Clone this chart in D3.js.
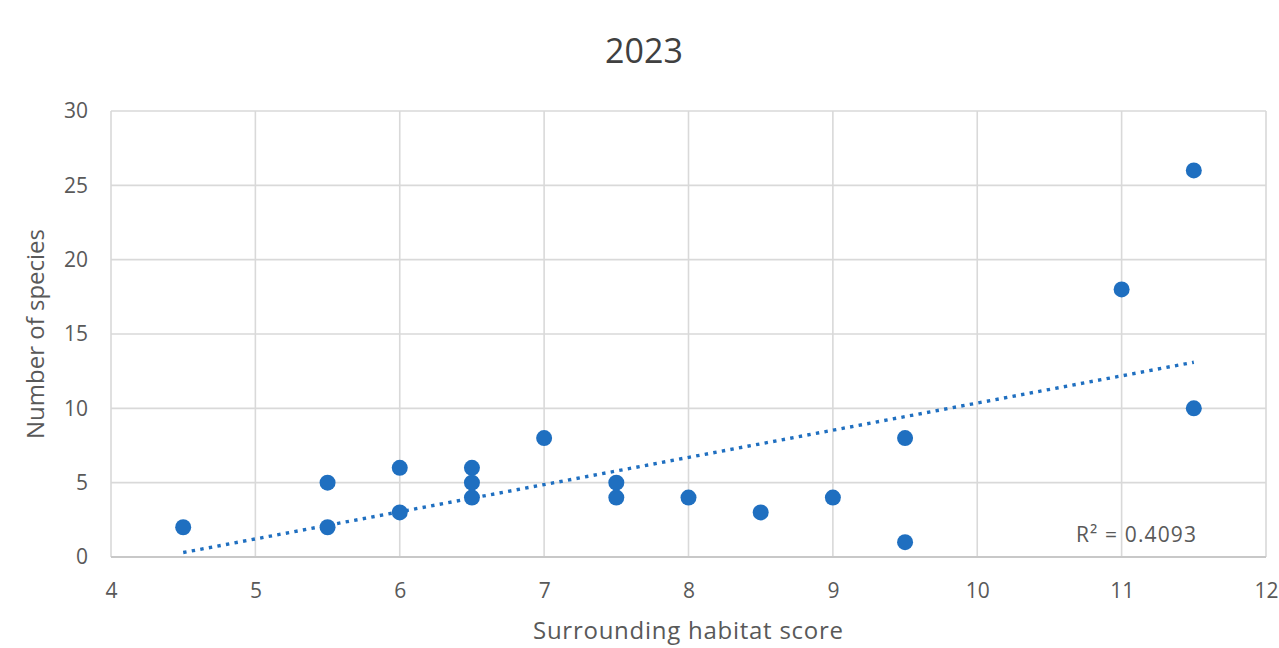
<!DOCTYPE html>
<html>
<head>
<meta charset="utf-8">
<script src="https://cdn.jsdelivr.net/npm/d3@7"></script>
<style>
  html, body { margin: 0; padding: 0; background: #fff; }
  svg { display: block; font-family: "Open Sans", sans-serif; }
  svg text { font-family: "Open Sans", sans-serif; }
</style>
</head>
<body>
<svg id="chart" width="1279" height="648"></svg>
<script>
// Habitat score vs number of species, 2023 survey
const habitatScore = [4.5, 5.5, 5.5, 6, 6, 6.5, 6.5, 6.5, 7, 7.5, 7.5, 8, 8.5, 9, 9.5, 9.5, 11, 11.5, 11.5];
const speciesCount = [2, 5, 2, 6, 3, 6, 5, 4, 8, 5, 4, 4, 3, 4, 8, 1, 18, 26, 10];

// Linear trendline end points
const trendX = [4.5, 11.5];
const trendY = [0.3, 13.1];
const rSquared = "0.4093";

const xTicks = [4, 5, 6, 7, 8, 9, 10, 11, 12];
const yTicks = [0, 5, 10, 15, 20, 25, 30];

const svg = d3.select("#chart");
const margin = { left: 111, right: 13, top: 111, bottom: 91 };
const W = 1279, H = 648;

const x = d3.scaleLinear().domain([4, 12]).range([margin.left, W - margin.right]);
const y = d3.scaleLinear().domain([0, 30]).range([H - margin.bottom, margin.top]);

const grid = "#d9d9d9";
const text = "#595959";
const blue = "#1f6fc0";

// gridlines
svg.append("g").selectAll("line").data(yTicks).join("line")
  .attr("x1", x(4)).attr("x2", x(12))
  .attr("y1", d => y(d)).attr("y2", d => y(d))
  .attr("stroke", grid).attr("stroke-width", 1.6);
svg.append("g").selectAll("line").data(xTicks).join("line")
  .attr("y1", y(0)).attr("y2", y(30))
  .attr("x1", d => x(d)).attr("x2", d => x(d))
  .attr("stroke", grid).attr("stroke-width", 1.6);
// baseline
svg.append("line")
  .attr("x1", x(4)).attr("x2", x(12)).attr("y1", y(0)).attr("y2", y(0))
  .attr("stroke", "#c8c8c8").attr("stroke-width", 1.8);

// axes (labels only)
const xAxis = svg.append("g")
  .attr("transform", `translate(0,${y(0)})`)
  .call(d3.axisBottom(x).tickValues(xTicks).tickSize(0).tickPadding(41).tickFormat(d3.format("d")));
xAxis.attr("font-family", null).attr("font-size", null);
xAxis.select(".domain").remove();
xAxis.selectAll("text").attr("fill", text).style("font-size", "21px").attr("dy", "0");

const yAxis = svg.append("g")
  .attr("transform", `translate(${x(4)},0)`)
  .call(d3.axisLeft(y).tickValues(yTicks).tickSize(0).tickPadding(23).tickFormat(d3.format("d")));
yAxis.attr("font-family", null).attr("font-size", null);
yAxis.select(".domain").remove();
yAxis.selectAll("text").attr("fill", text).style("font-size", "21px");

// trendline
svg.append("line")
  .attr("x1", x(trendX[0])).attr("y1", y(trendY[0]))
  .attr("x2", x(trendX[1])).attr("y2", y(trendY[1]))
  .attr("stroke", blue).attr("stroke-width", 3.4)
  .attr("stroke-dasharray", "3.4 5.3");

// points
svg.append("g").selectAll("circle").data(habitatScore).join("circle")
  .attr("cx", d => x(d))
  .attr("cy", (d, i) => y(speciesCount[i]))
  .attr("r", 8)
  .attr("fill", blue);

// R² label
svg.append("text")
  .attr("x", 1076).attr("y", 542)
  .attr("fill", text).style("font-size", "21px")
  .attr("textLength", 120)
  .text(`R² = ${rSquared}`);

// title
svg.append("text")
  .attr("x", 644).attr("y", 63).attr("text-anchor", "middle")
  .attr("fill", "#404040").style("font-size", "34px")
  .text("2023");

// axis titles
svg.append("text")
  .attr("x", 688).attr("y", 639).attr("text-anchor", "middle")
  .attr("fill", text).style("font-size", "24px")
  .attr("textLength", 310)
  .text("Surrounding habitat score");
svg.append("text")
  .attr("transform", `translate(44,${(y(0) + y(30)) / 2}) rotate(-90)`)
  .attr("text-anchor", "middle")
  .attr("fill", text).style("font-size", "24px")
  .text("Number of species");
</script>
</body>
</html>
